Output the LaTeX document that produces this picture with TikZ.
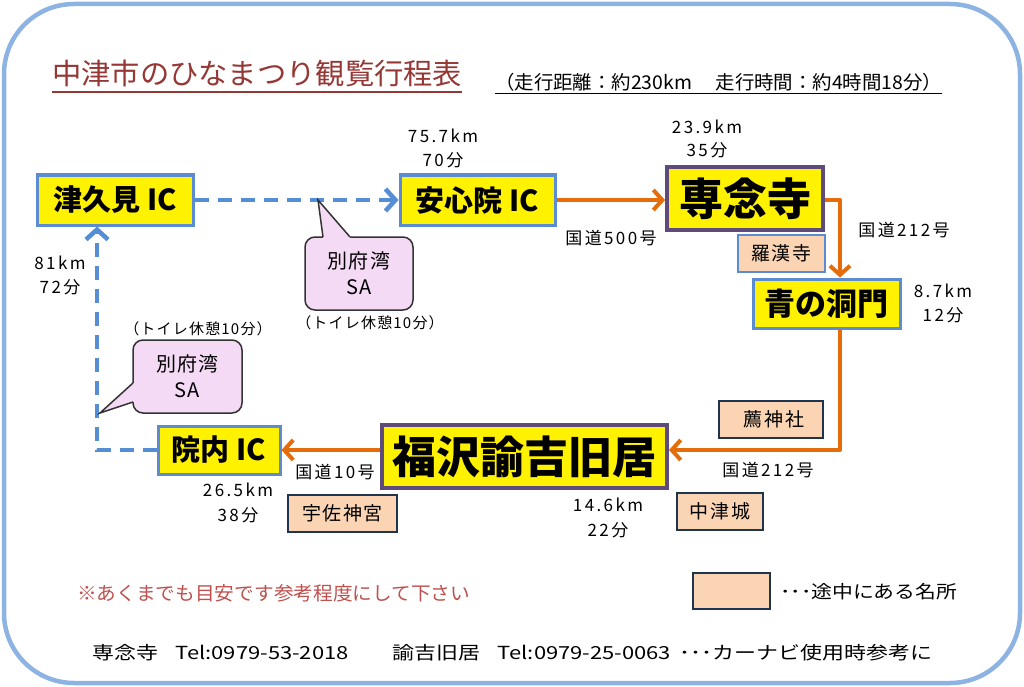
\documentclass[tikz,border=0pt]{standalone}
\usepackage{fontspec}
\setmainfont{Noto Sans CJK JP}
\usetikzlibrary{arrows.meta}
\definecolor{frameblue}{HTML}{8DB3E2}
\definecolor{icblue}{HTML}{5B8BD0}
\definecolor{mainpurple}{HTML}{5F4B7B}
\definecolor{roadorange}{HTML}{E46C0A}
\definecolor{hwyblue}{HTML}{558ED5}
\definecolor{pinkfill}{HTML}{F4DAF4}
\definecolor{peach}{HTML}{FBD4B4}
\definecolor{spotdark}{HTML}{1F3450}
\definecolor{titlered}{HTML}{953735}
\definecolor{notered}{HTML}{C0504D}
\newcommand{\fitw}[2]{\resizebox{#1}{\height}{#2}}
\begin{document}
\begin{tikzpicture}[x=1pt,y=-1pt,
  icbox/.style={draw=icblue, line width=3pt, fill=yellow, inner sep=0pt,
    font=\bfseries\fontsize{29}{29}\selectfont},
  mainbox/.style={draw=mainpurple, line width=4pt, fill=yellow, inner sep=0pt,
    font=\bfseries\fontsize{44}{44}\selectfont},
  spotbox/.style={draw=spotdark, line width=1.8pt, fill=peach, inner sep=0pt,
    minimum height=37pt, font=\fontsize{19}{19}\selectfont\addfontfeature{LetterSpace=8}},
  lbl/.style={inner sep=0pt, align=center, font=\fontsize{17}{24}\selectfont\addfontfeature{LetterSpace=14}},
  smalllbl/.style={inner sep=0pt, font=\fontsize{15}{15}\selectfont\addfontfeature{LetterSpace=8}},
  road/.style={draw=roadorange, line width=4pt, line join=round,
    -{Straight Barb[length=9pt,width=20pt]}},
  hwy/.style={draw=hwyblue, line width=4.5pt, dash pattern=on 14pt off 9pt,
    -{Straight Barb[length=10pt,width=22pt]}},
  sabox/.style={draw=black!80, line width=1.5pt, fill=pinkfill, rounded corners=10pt,
    inner sep=0pt, align=center, font=\fontsize{20}{26}\selectfont\addfontfeature{LetterSpace=6}},
  txt/.style={inner sep=0pt, anchor=base west}
]
\useasboundingbox (0,0) rectangle (1024,687);
\fill[white] (0,0) rectangle (1024,687);
\draw[frameblue, line width=4.5pt, rounded corners=70pt] (4,4) rectangle (1020,683);

% title
\node[txt, text=titlered, font=\fontsize{29}{29}\selectfont] (title) at (52,85) {\fitw{410pt}{中津市のひなまつり観覧行程表}};
\draw[titlered, line width=1.3pt] ([yshift=-7pt]title.base west) -- ([yshift=-7pt]title.base east);
\node[txt, font=\fontsize{19}{19}\selectfont] (sub) at (495,90) {\fitw{447pt}{（走行距離：約230km\hspace{1.2em}走行時間：約4時間18分）}};
\draw[line width=1pt] ([yshift=-3.5pt]sub.base west) -- ([yshift=-3.5pt]sub.base east);

% main nodes
\node[icbox, minimum width=156pt, minimum height=50pt] (tsukumi) at (115,200) {津久見 IC};
\node[icbox, minimum width=155pt, minimum height=50pt] (ajimu) at (477.5,200) {安心院 IC};
\node[mainbox, minimum width=156pt, minimum height=63pt] (sennen) at (745,198.5) {専念寺};
\node[icbox, minimum width=147pt, minimum height=49pt, font=\bfseries\fontsize{31}{31}\selectfont] (aono) at (826.5,303.5) {青の洞門};
\node[mainbox, minimum width=285pt, minimum height=63pt, font=\bfseries\fontsize{44}{44}\selectfont] (fuku) at (524.5,456.5) {福沢諭吉旧居};
\node[icbox, minimum width=122pt, minimum height=48pt] (innai) at (219,450) {院内 IC};

% connectors
\coordinate (k1) at (840,200);
\coordinate (k2) at (840,450);
\coordinate (k3) at (97,450);
\draw[hwy] (tsukumi.east) -- (ajimu.west);
\draw[road] (ajimu.east) -- (sennen.west|-ajimu.east);
\draw[road] (sennen.east|-k1) -- (k1) -- (k1|-aono.north);
\draw[road] (k1|-aono.south) -- (k2) -- (k2-|fuku.east);
\draw[road] (fuku.west|-innai.east) -- (innai.east);
\draw[hwy] (innai.west) -- (k3) -- (k3|-tsukumi.south);

% callouts
\node[sabox, minimum width=108pt, minimum height=73pt] (sa1) at (359,273.5) {別府湾\\SA};
\coordinate (p1) at (318,200);
\coordinate (p1a) at (323,237);
\coordinate (p1b) at (350,237);
\fill[pinkfill] (p1a) -- (p1) -- (p1b) -- ([yshift=-4pt]p1b) -- ([yshift=-4pt]p1a) -- cycle;
\draw[black!80, line width=1.5pt, line join=miter] (p1a) -- (p1) -- (p1b);

\node[sabox, minimum width=109pt, minimum height=73pt] (sa2) at (187.5,376.5) {別府湾\\SA};
\coordinate (p2) at (100,413);
\coordinate (p2a) at (133,383);
\coordinate (p2b) at (133,402);
\fill[pinkfill] (p2a) -- (p2) -- (p2b) -- ([xshift=4pt]p2b) -- ([xshift=4pt]p2a) -- cycle;
\draw[black!80, line width=1.5pt, line join=miter] (p2a) -- (p2) -- (p2b);

\node[smalllbl] (toilet1) at (370,323) {（トイレ休憩10分）};
\node[smalllbl] (toilet2) at (198,329) {（トイレ休憩10分）};

% spots
\node[spotbox, draw=icblue, minimum width=87pt] (rakan) at (781.5,253.5) {羅漢寺};
\node[spotbox, minimum width=104pt] (komo) at (771,419.5) {\hspace{6pt}薦神社};
\node[spotbox, minimum width=109pt] (usa) at (342.5,513.5) {宇佐神宮};
\node[spotbox, minimum width=86pt] (nakatsu) at (720,511.5) {中津城};

% labels
\node[lbl] (d1) at (443,148) {75.7km\\70分};
\node[lbl, font=\fontsize{17}{23}\selectfont\addfontfeature{LetterSpace=14}] (d2) at (707,138.5) {23.9km\\35分};
\node[lbl] (d3) at (943,303) {8.7km\\12分};
\node[lbl, font=\fontsize{17}{25}\selectfont\addfontfeature{LetterSpace=14}] (d4) at (608,517.5) {14.6km\\22分};
\node[lbl, font=\fontsize{17}{25}\selectfont\addfontfeature{LetterSpace=14}] (d5) at (238,502.5) {26.5km\\38分};
\node[lbl] (d6) at (60,275) {81km\\72分};
\node[lbl] (r1) at (611,238) {国道500号};
\node[lbl] (r2) at (904,230) {国道212号};
\node[lbl] (r3) at (768,470) {国道212号};
\node[lbl] (r4) at (335,472) {国道10号};

% notes
\node[txt, text=notered, font=\fontsize{19}{19}\selectfont] (note) at (77,600) {\fitw{393pt}{※あくまでも目安です参考程度にして下さい}};
\node[spotbox, minimum width=77pt, minimum height=36pt] (legend) at (731.5,591) {};
\node[txt, font=\fontsize{18}{18}\selectfont] (legendtxt) at (780,598) {\fitw{177pt}{･･･途中にある名所}};
\node[txt, font=\fontsize{18}{18}\selectfont] (footer) at (92,659) {\fitw{840pt}{専念寺\hspace{0.8em}Tel:0979-53-2018\hspace{2em}諭吉旧居\hspace{0.8em}Tel:0979-25-0063\hspace{0.4em}･･･カーナビ使用時参考に}};
\end{tikzpicture}
\end{document}
